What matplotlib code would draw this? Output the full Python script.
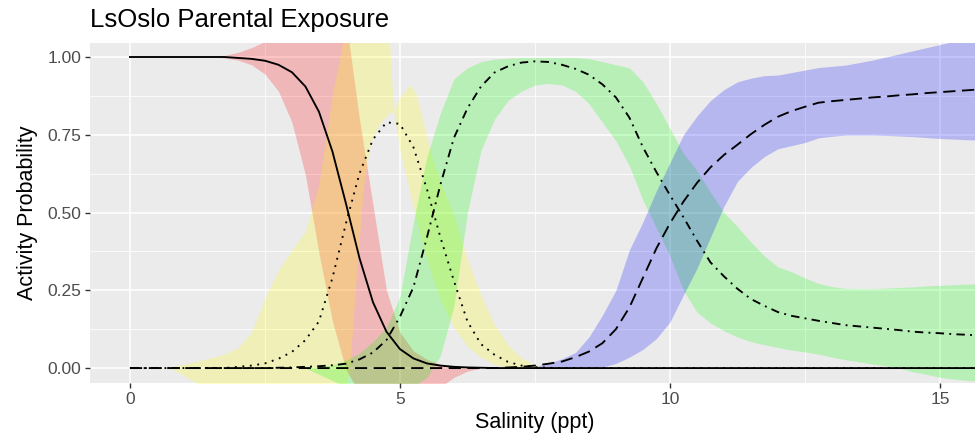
import numpy as np
import matplotlib
matplotlib.use("Agg")
import matplotlib.pyplot as plt

# salinity grid for the fitted curves (ppt)
salinity = np.arange(0, 16, 0.25)

# fitted activity probabilities
p_solid = [1.0] * 8 + [0.997, 0.994, 0.988, 0.975, 0.951, 0.905, 0.824, 0.696, 0.529, 0.354,
                       0.212, 0.117, 0.061, 0.031, 0.015, 0.008, 0.004, 0.002, 0.001] + [0.0] * 37
p_dotted = [0.0] * 8 + [0.004, 0.008, 0.015, 0.03, 0.052, 0.09, 0.15, 0.29, 0.465, 0.625, 0.735,
                        0.79, 0.785, 0.71, 0.575, 0.42, 0.28, 0.15, 0.077, 0.043, 0.02, 0.008,
                        0.003, 0.001] + [0.0] * 32
p_dotdash = [0.0] * 11 + [0.001, 0.002, 0.004, 0.006, 0.009, 0.014, 0.028, 0.05, 0.09, 0.165, 0.26,
                          0.42, 0.59, 0.74, 0.835, 0.905, 0.95, 0.97, 0.982, 0.986, 0.984, 0.975,
                          0.962, 0.943, 0.912, 0.87, 0.805, 0.71, 0.63, 0.556, 0.485, 0.41, 0.34,
                          0.295, 0.255, 0.222, 0.2, 0.18, 0.168, 0.16, 0.152, 0.145, 0.138, 0.134,
                          0.13, 0.126, 0.122, 0.117, 0.114, 0.112, 0.109, 0.107, 0.105]
p_dashed = [0.0] * 28 + [0.002, 0.004, 0.008, 0.014, 0.021, 0.035, 0.053, 0.08, 0.125, 0.195, 0.29,
                         0.385, 0.465, 0.535, 0.595, 0.645, 0.685, 0.718, 0.752, 0.782, 0.808,
                         0.826, 0.84, 0.853, 0.858, 0.862, 0.866, 0.87, 0.873, 0.877, 0.88, 0.884,
                         0.887, 0.89, 0.893, 0.896]

# confidence bands (same grid)
red_lo = [1.0] * 7 + [0.997, 0.99, 0.975, 0.945, 0.89, 0.79, 0.62, 0.37, 0.15, -0.005, -0.08, -0.1,
                      -0.1, -0.1, -0.1, -0.09, -0.06, -0.03, -0.01] + [0.0] * 38
red_hi = [1.0] * 7 + [1.005, 1.015, 1.03, 1.05, 1.08, 1.1, 1.12, 1.12, 1.12, 1.12, 0.8, 0.525, 0.25,
                      0.115, 0.055, 0.028, 0.012, 0.004, 0.0] + [0.0] * 38
green_lo = [0.0] * 14 + [-0.02, -0.04, -0.06, -0.06, -0.06, -0.06, -0.06, -0.06, -0.03, 0.04, 0.2,
                         0.5, 0.7, 0.8, 0.86, 0.89, 0.91, 0.915, 0.91, 0.89, 0.85, 0.79, 0.73,
                         0.65, 0.54, 0.45, 0.36, 0.25, 0.18, 0.145, 0.12, 0.1, 0.085, 0.075, 0.066,
                         0.058, 0.052, 0.045, 0.035, 0.027, 0.02, 0.013, 0.007, 0.0, -0.012, -0.02,
                         -0.03, -0.035, -0.04, -0.042]
green_hi = [0.0] * 14 + [0.005, 0.01, 0.025, 0.048, 0.085, 0.13, 0.23, 0.47, 0.68, 0.82, 0.93, 0.965,
                         0.985, 0.993, 0.996, 0.998, 0.998, 0.998, 0.998, 0.998, 0.995, 0.985,
                         0.975, 0.965, 0.92, 0.85, 0.77, 0.69, 0.635, 0.565, 0.5, 0.455, 0.405,
                         0.36, 0.325, 0.31, 0.29, 0.272, 0.262, 0.256, 0.255, 0.255, 0.257,
                         0.259, 0.261, 0.264, 0.266, 0.268, 0.27, 0.271]
blue_lo = [0.0] * 35 + [0.003, 0.015, 0.035, 0.06, 0.095, 0.148, 0.235, 0.32, 0.42, 0.52, 0.6,
                        0.645, 0.68, 0.705, 0.715, 0.725, 0.74, 0.745, 0.749, 0.749, 0.749, 0.748,
                        0.746, 0.744, 0.741, 0.738, 0.736, 0.734, 0.733]
blue_hi = [0.0] * 30 + [0.005, 0.015, 0.03, 0.05, 0.1, 0.17, 0.25, 0.38, 0.47, 0.57, 0.66, 0.75,
                        0.81, 0.86, 0.895, 0.92, 0.932, 0.94, 0.942, 0.95, 0.958, 0.966, 0.97,
                        0.974, 0.982, 0.99, 1.0, 1.01, 1.02, 1.03, 1.04, 1.05, 1.06, 1.07]

# the yellow band has its own grid, its two limits cross near 4.88 ppt
yellow_x = [0, 0.5, 0.75, 1.0, 1.25, 1.5, 1.75, 2.0, 2.25, 2.5, 2.75, 3.0, 3.25, 3.5, 3.75, 4.0,
            4.07, 4.2, 4.32, 4.45, 4.6, 4.75, 4.81, 4.88, 5.0, 5.19, 5.3, 5.43, 5.59, 5.75, 6.0,
            6.25, 6.5, 6.75, 7.0, 7.25, 7.5, 7.75, 8.0, 15.75]
yellow_a = [0.0, 0.0, 0.004, 0.012, 0.022, 0.033, 0.045, 0.065, 0.115, 0.225, 0.315, 0.38, 0.44, 0.59,
            0.88, 1.1, 1.15, 1.2, 1.2, 1.2, 1.15, 1.07, 1.04, 0.83, 0.7, 0.56, 0.48, 0.39, 0.3,
            0.22, 0.13, 0.07, 0.035, 0.012, 0.0, 0.0, 0.0, 0.0, 0.0, 0.0]
yellow_b = [0.0, 0.0, 0.0, -0.025, -0.05, -0.09, -0.13, -0.16, -0.18, -0.2, -0.2, -0.2, -0.2, -0.2,
            -0.2, -0.05, 0.0, 0.31, 0.58, 0.72, 0.78, 0.81, 0.82, 0.83, 0.87, 0.911, 0.88, 0.793,
            0.68, 0.6, 0.49, 0.35, 0.235, 0.14, 0.075, 0.033, 0.01, 0.0, 0.0, 0.0]

x_ticks = [0, 5, 10, 15]
y_ticks = [0.0, 0.25, 0.5, 0.75, 1.0]
y_labels = ["0.00", "0.25", "0.50", "0.75", "1.00"]

plt.rcParams['font.family'] = ['Liberation Sans', 'DejaVu Sans']

fig = plt.figure(figsize=(9.75, 4.41), dpi=100)
ax = fig.add_axes([90 / 975, 1 - 383 / 441, 885 / 975, 340 / 441])
ax.set_facecolor('#EBEBEB')

a = 0.22
ax.fill_between(salinity, red_lo, red_hi, color='red', alpha=a, lw=0)
ax.fill_between(yellow_x, yellow_b, yellow_a, color='yellow', alpha=a, lw=0)
ax.fill_between(salinity, green_lo, green_hi, color='lime', alpha=a, lw=0)
ax.fill_between(salinity, blue_lo, blue_hi, color='blue', alpha=a, lw=0)

lw = 1.35
ax.plot(salinity, p_solid, color='black', lw=lw)
ax.plot(salinity, p_dotted, color='black', lw=lw, linestyle=(0, (1, 3)))
ax.plot(salinity, p_dotdash, color='black', lw=lw, linestyle=(0, (4.5, 2.8, 1, 2.8)))
ax.plot(salinity, p_dashed, color='black', lw=lw, linestyle=(0, (6.5, 3.5)))

ax.set_xlim(-0.74, 15.65)
ax.set_ylim(-0.048, 1.045)
ax.set_xticks(x_ticks)
ax.set_xticks([2.5, 7.5, 12.5], minor=True)
ax.set_yticks(y_ticks)
ax.set_yticklabels(y_labels)
ax.set_yticks([0.125, 0.375, 0.625, 0.875], minor=True)
ax.grid(which='major', color='white', lw=1.1)
ax.grid(which='minor', color='white', lw=0.55)
ax.set_axisbelow(True)
for s in ax.spines.values():
    s.set_visible(False)
ax.tick_params(which='major', length=3.6, width=1, color='#333333', labelcolor='#4D4D4D',
               labelsize=12.5, pad=2.7)
ax.tick_params(which='minor', length=0)

fig.text(90 / 975, 1 - 27 / 441, 'LsOslo Parental Exposure', fontsize=18.5, va='baseline', ha='left')
fig.text(535 / 975, 1 - 428 / 441, 'Salinity (ppt)', fontsize=15.5, va='baseline', ha='center')
fig.text(28 / 975, 1 - 213 / 441, 'Activity Probability', fontsize=15.5, rotation=90,
         va='center', ha='center')

fig.savefig('out.png', dpi=100)
